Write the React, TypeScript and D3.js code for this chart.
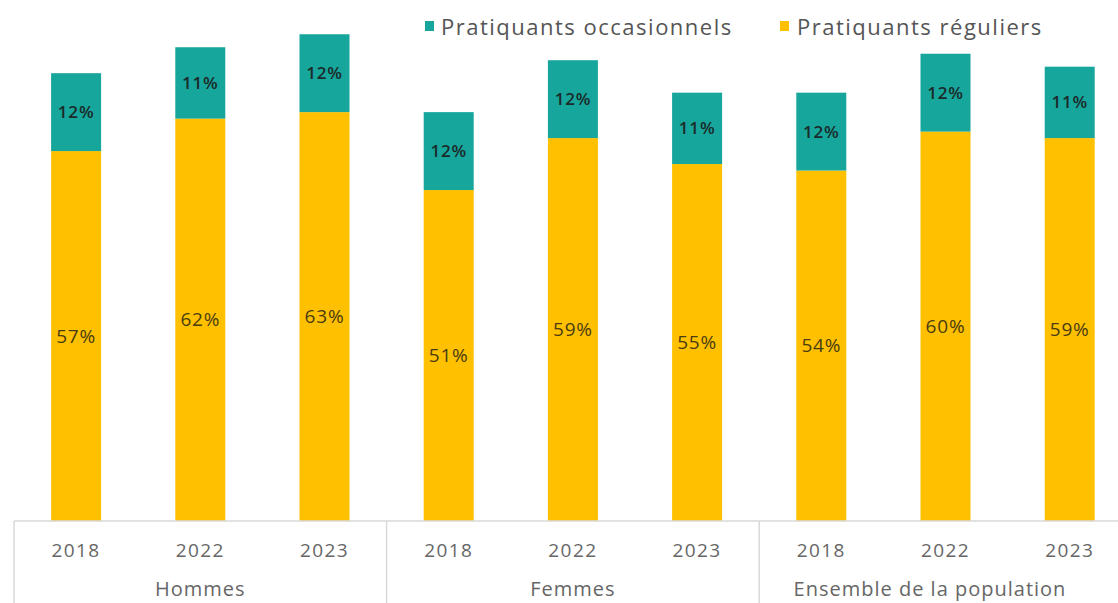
import React from "react";
import * as d3 from "d3";

const groups = ["Hommes", "Femmes", "Ensemble de la population"];
const years = ["2018", "2022", "2023"];
const reguliers = [57, 62, 63, 51, 59, 55, 54, 60, 59];
const occasionnels = [12, 11, 12, 12, 12, 11, 12, 12, 11];
const seriesNames = ["Pratiquants occasionnels", "Pratiquants réguliers"];
const TEAL = "#17a69b";
const YELLOW = "#ffc000";
const FONT = "'Open Sans', sans-serif";

export default function App() {
  const W = 1118, H = 603;
  const left = 14, base = 521;
  const step = 124.2;
  const keys = d3.range(9).map(String);
  const x = d3.scaleBand().domain(keys).range([left, left + step * 9]).paddingInner(0.6).paddingOuter(0.3);
  const y = d3.scaleLinear().domain([0, 80]).range([base, base - 80 * 6.49]);
  const bw = 50;
  const groupCx = [left + step * 1.5, left + step * 4.5, 930];
  return (
    <svg width={W} height={H} style={{ position: "absolute", left: 0, top: 0, background: "#fff" }}>
      {keys.map((k, i) => {
        const cx = (x(k) as number) + x.bandwidth() / 2;
        const r = reguliers[i], o = occasionnels[i];
        return (
          <g key={k}>
            <rect x={cx - bw / 2} y={y(r)} width={bw} height={y(0) - y(r)} fill={YELLOW} />
            <rect x={cx - bw / 2} y={y(r + o)} width={bw} height={y(r) - y(r + o)} fill={TEAL} />
            <text x={cx} y={(y(0) + y(r)) / 2} dy="0.35em" textAnchor="middle" fontFamily={FONT} fontSize={19} letterSpacing={0.8} fill="#4a3c10">{r}%</text>
            <text x={cx} y={(y(r) + y(r + o)) / 2} dy="0.35em" textAnchor="middle" fontFamily={FONT} fontSize={17} letterSpacing={0.8} fontWeight={600} fill="#1b2a2a">{o}%</text>
            <text x={cx} y={550} dy="0.35em" textAnchor="middle" fontFamily={FONT} fontSize={19} letterSpacing={1.4} fill="#666">{years[i % 3]}</text>
          </g>
        );
      })}
      <line x1={left} x2={W} y1={base} y2={base} stroke="#d9d9d9" strokeWidth={1.5} />
      {groups.map((g, gi) => {
        const x0 = left + gi * step * 3;
        return (
          <g key={g}>
            <line x1={x0} x2={x0} y1={base} y2={H} stroke="#d9d9d9" strokeWidth={1.5} />
            <text x={groupCx[gi]} y={589} dy="0.35em" textAnchor="middle" fontFamily={FONT} fontSize={20} letterSpacing={1} fill="#666">{g}</text>
          </g>
        );
      })}
      <rect x={425} y={21} width={9} height={10} fill={TEAL} />
      <text x={441} y={27} dy="0.35em" fontFamily={FONT} fontSize={22} letterSpacing={1.5} fill="#555">{seriesNames[0]}</text>
      <rect x={780} y={21} width={9} height={10} fill={YELLOW} />
      <text x={797} y={27} dy="0.35em" fontFamily={FONT} fontSize={22} letterSpacing={1.5} fill="#555">{seriesNames[1]}</text>
    </svg>
  );
}
